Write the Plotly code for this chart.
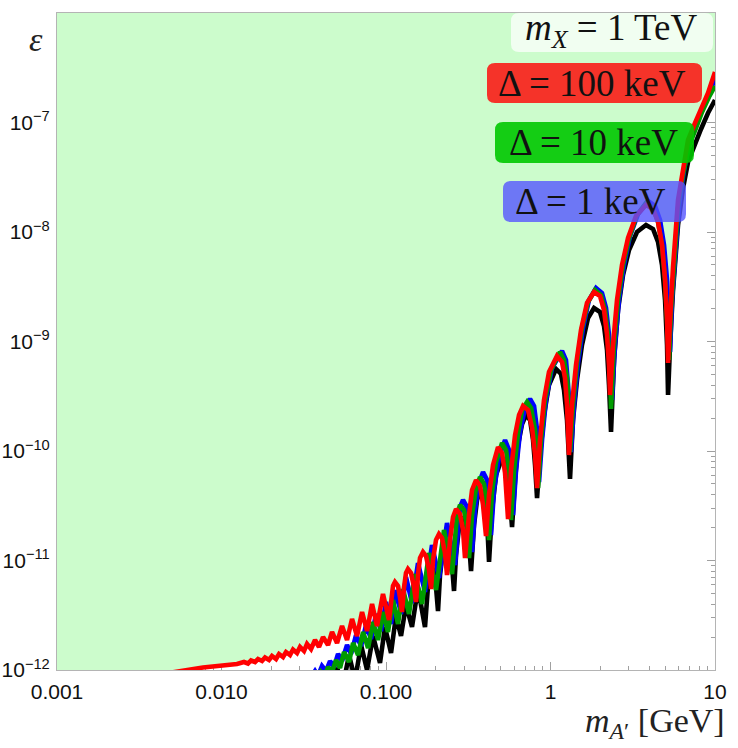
import plotly.graph_objects as go

# ---------------- data ----------------
red_m = [0.00368, 0.0056, 0.00772, 0.01242, 0.0137, 0.01449, 0.01511, 0.01599, 0.01667, 0.01763,
         0.01839, 0.01945, 0.02028, 0.02145, 0.02237, 0.02366, 0.02467, 0.02609, 0.02721, 0.02878,
         0.03002, 0.03174, 0.03311, 0.03502, 0.03703, 0.03916, 0.04142, 0.04442, 0.04699, 0.05039,
         0.05405, 0.05797, 0.06217, 0.06668, 0.07152, 0.0767, 0.08227, 0.0882, 0.09588, 0.1043,
         0.1073, 0.1103, 0.1134, 0.1183, 0.1216, 0.1251, 0.1286, 0.1323, 0.136, 0.1419,
         0.148, 0.1522, 0.1565, 0.161, 0.1679, 0.1751, 0.1826, 0.1878, 0.1931, 0.2014,
         0.21, 0.219, 0.2284, 0.2349, 0.245, 0.2555, 0.2665, 0.2818, 0.2939, 0.3023,
         0.3197, 0.3334, 0.3526, 0.3729, 0.3889, 0.4056, 0.423, 0.4474, 0.4798, 0.5075,
         0.5293, 0.552, 0.5756, 0.6088, 0.6439, 0.681, 0.7304, 0.7725, 0.8056, 0.8285,
         0.8637, 0.9129, 0.9791, 1.095, 1.175, 1.225, 1.26, 1.295, 1.351, 1.429,
         1.533, 1.667, 1.839, 2.0, 2.115, 2.206, 2.268, 2.3, 2.399, 2.537,
         2.721, 2.96, 3.311, 3.808, 4.2, 4.505, 4.765, 4.97, 5.11, 5.183,
         5.33, 5.558, 5.961, 6.394, 6.858, 7.564, 8.227, 9.071, 10.0]
red_eps = [8.82e-13, 9.79e-13, 1.054e-12, 1.134e-12, 1.183e-12, 1.146e-12, 1.221e-12, 1.183e-12, 1.26e-12, 1.208e-12,
           1.301e-12, 1.234e-12, 1.342e-12, 1.26e-12, 1.4e-12, 1.314e-12, 1.46e-12, 1.371e-12, 1.539e-12, 1.43e-12,
           1.622e-12, 1.491e-12, 1.727e-12, 1.555e-12, 1.879e-12, 1.622e-12, 2.001e-12, 1.692e-12, 2.224e-12, 1.764e-12,
           2.523e-12, 1.879e-12, 2.923e-12, 2.044e-12, 3.386e-12, 2.271e-12, 4.007e-12, 2.523e-12, 4.945e-12, 2.862e-12,
           4.642e-12, 5.851e-12, 6.364e-12, 5.851e-12, 4.642e-12, 3.386e-12, 5.61e-12, 7.69e-12, 8.365e-12, 7.69e-12,
           5.729e-12, 4.179e-12, 7.373e-12, 1.054e-11, 1.195e-11, 1.099e-11, 8.191e-12, 5.493e-12, 1.01e-11, 1.539e-11,
           1.745e-11, 1.605e-11, 1.17e-11, 7.373e-12, 1.539e-11, 2.497e-11, 2.954e-11, 2.659e-11, 1.899e-11, 1.054e-11,
           2.603e-11, 4.404e-11, 5.436e-11, 4.792e-11, 3.213e-11, 1.674e-11, 3.965e-11, 7.451e-11, 1.088e-10, 9.59e-11,
           6.298e-11, 2.393e-11, 6.708e-11, 1.4e-10, 2.132e-10, 2.576e-10, 2.368e-10, 1.622e-10, 9.195e-11, 4.594e-11,
           1.26e-10, 2.923e-10, 5.267e-10, 7.373e-10, 6.5e-10, 4.642e-10, 2.631e-10, 9.195e-11, 2.631e-10, 6.102e-10,
           1.274e-9, 2.247e-9, 2.832e-9, 2.603e-9, 1.939e-9, 1.146e-9, 6.102e-10, 3.247e-10, 9.292e-10, 2.393e-9,
           4.995e-9, 8.816e-9, 1.4e-8, 1.764e-8, 1.622e-8, 1.234e-8, 7.61e-9, 3.645e-9, 1.571e-9, 6.364e-10,
           1.571e-9, 4.792e-9, 1.96e-8, 3.923e-8, 6.923e-8, 9.897e-8, 1.301e-7, 1.859e-7, 2.892e-7]

black_m = [0.04442, 0.05039, 0.05481, 0.05961, 0.06484, 0.07053, 0.0767, 0.08343, 0.09194, 0.0986,
           0.1073, 0.115, 0.1234, 0.1323, 0.1439, 0.1565, 0.1726, 0.1775, 0.1826, 0.1878,
           0.1958, 0.2014, 0.2071, 0.213, 0.2221, 0.2317, 0.2416, 0.252, 0.2591, 0.2665,
           0.2779, 0.2898, 0.3065, 0.3197, 0.3288, 0.3429, 0.3576, 0.3729, 0.3944, 0.4113,
           0.423, 0.4412, 0.4666, 0.5075, 0.5367, 0.5597, 0.5838, 0.6088, 0.6349, 0.6715,
           0.7102, 0.7511, 0.7833, 0.8056, 0.8285, 0.8637, 0.9129, 0.9791, 1.08, 1.158,
           1.208, 1.26, 1.314, 1.37, 1.449, 1.554, 1.691, 1.839, 2.0, 2.115,
           2.206, 2.268, 2.333, 2.433, 2.573, 2.76, 3.002, 3.357, 3.808, 4.2,
           4.505, 4.765, 4.97, 5.11, 5.183, 5.33, 5.558, 5.961, 6.394, 6.858,
           7.564, 8.227, 9.071, 10.0]
black_eps = [6.57e-13, 1.043e-12, 7.29e-13, 1.371e-12, 8.1e-13, 1.692e-12, 1.0e-12, 2.044e-12, 1.158e-12, 2.47e-12,
             1.43e-12, 3.113e-12, 2.044e-12, 3.923e-12, 2.47e-12, 5.61e-12, 2.47e-12, 5.379e-12, 7.853e-12, 8.909e-12,
             8.02e-12, 5.729e-12, 3.458e-12, 7.373e-12, 1.247e-11, 1.475e-11, 1.301e-11, 9.099e-12, 5.267e-12, 1.122e-11,
             2.022e-11, 2.497e-11, 2.2e-11, 1.475e-11, 8.02e-12, 2.11e-11, 3.57e-11, 4.404e-11, 3.802e-11, 2.343e-11,
             9.691e-12, 2.892e-11, 6.038e-11, 8.633e-11, 7.451e-11, 4.69e-11, 2.022e-11, 5.436e-11, 1.134e-10, 1.764e-10,
             2.132e-10, 1.919e-10, 1.26e-10, 7.451e-11, 3.722e-11, 9.195e-11, 2.132e-10, 4.007e-10, 5.61e-10, 5.05e-10,
             3.607e-10, 1.919e-10, 5.55e-11, 1.919e-10, 4.451e-10, 9.292e-10, 1.639e-9, 2.022e-9, 1.859e-9, 1.385e-9,
             8.365e-10, 4.007e-10, 1.491e-10, 6.779e-10, 1.939e-9, 4.05e-9, 6.85e-9, 1.0e-8, 1.158e-8, 1.065e-8,
             8.105e-9, 4.995e-9, 2.393e-9, 9.292e-10, 3.247e-10, 9.292e-10, 2.954e-9, 1.158e-8, 2.523e-8, 4.358e-8,
             6.5e-8, 8.724e-8, 1.221e-7, 1.605e-7]

blue_m = [0.03357, 0.03703, 0.03862, 0.04084, 0.0432, 0.04569, 0.04832, 0.0511, 0.05405, 0.05797,
          0.06131, 0.06576, 0.07053, 0.07564, 0.08113, 0.08698, 0.09323, 0.1, 0.1073, 0.115,
          0.1234, 0.1323, 0.1439, 0.1565, 0.1726, 0.1904, 0.21, 0.2349, 0.2628, 0.274,
          0.2818, 0.2939, 0.3108, 0.3242, 0.3334, 0.3477, 0.3677, 0.3889, 0.4113, 0.423,
          0.435, 0.4537, 0.4866, 0.5293, 0.5597, 0.5756, 0.592, 0.6174, 0.653, 0.7003,
          0.7511, 0.7944, 0.8285, 0.8402, 0.8517, 0.8883, 0.9389, 1.021, 1.175, 1.242,
          1.277, 1.314, 1.332, 1.39, 1.47, 1.576, 1.714, 1.891, 2.056, 2.175,
          2.268, 2.333, 2.366, 2.467, 2.609, 2.799, 3.044, 3.405, 3.916, 4.32,
          4.633, 4.9, 5.11, 5.256, 5.33, 5.481, 5.716, 6.046, 6.484, 6.955,
          7.67, 8.343, 9.194, 10.0]
blue_eps = [7.77e-13, 9.79e-13, 8.82e-13, 1.088e-12, 9.79e-13, 1.208e-12, 1.065e-12, 1.4e-12, 1.208e-12, 1.692e-12,
            1.4e-12, 2.088e-12, 1.656e-12, 2.576e-12, 1.919e-12, 3.247e-12, 2.271e-12, 4.179e-12, 2.631e-12, 5.379e-12,
            3.247e-12, 7.07e-12, 4.092e-12, 9.489e-12, 5.157e-12, 1.385e-11, 6.923e-12, 2.2e-11, 9.099e-12, 2.11e-11,
            3.08e-11, 3.57e-11, 3.08e-11, 2.11e-11, 1.195e-11, 2.892e-11, 5.103e-11, 6.432e-11, 5.436e-11, 3.57e-11,
            1.709e-11, 4.404e-11, 8.816e-11, 1.26e-10, 1.021e-10, 6.038e-11, 2.603e-11, 6.708e-11, 1.491e-10, 2.47e-10,
            2.985e-10, 2.576e-10, 1.555e-10, 9.195e-11, 5.212e-11, 1.26e-10, 2.923e-10, 5.729e-10, 8.191e-10, 6.779e-10,
            4.451e-10, 2.368e-10, 9.79e-11, 2.631e-10, 6.364e-10, 1.328e-9, 2.393e-9, 3.08e-9, 2.773e-9, 2.022e-9,
            1.146e-9, 6.102e-10, 2.923e-10, 9.292e-10, 2.393e-9, 4.995e-9, 9.195e-9, 1.46e-8, 1.919e-8, 1.727e-8,
            1.287e-8, 7.61e-9, 3.645e-9, 1.571e-9, 8.02e-10, 2.393e-9, 5.55e-9, 1.764e-8, 3.683e-8, 6.5e-8,
            9.292e-8, 1.301e-7, 1.783e-7, 2.55e-7]

green_m = [0.03755, 0.04028, 0.0426, 0.04442, 0.04699, 0.0497, 0.05256, 0.05558, 0.05961, 0.06305,
           0.06762, 0.07253, 0.07779, 0.08343, 0.08945, 0.09588, 0.1028, 0.1103, 0.1183, 0.1269,
           0.138, 0.1501, 0.1655, 0.1826, 0.2014, 0.2253, 0.252, 0.2628, 0.2702, 0.2818,
           0.2981, 0.3108, 0.3197, 0.3334, 0.3526, 0.3729, 0.3944, 0.4113, 0.423, 0.4412,
           0.4666, 0.5075, 0.5367, 0.5597, 0.5756, 0.6004, 0.6349, 0.6715, 0.7202, 0.7617,
           0.8056, 0.8285, 0.8402, 0.8759, 0.9258, 1.007, 1.142, 1.208, 1.26, 1.295,
           1.314, 1.37, 1.449, 1.554, 1.691, 1.865, 2.028, 2.145, 2.237, 2.3,
           2.333, 2.433, 2.573, 2.76, 3.002, 3.357, 3.808, 4.2, 4.505, 4.765,
           4.97, 5.11, 5.256, 5.405, 5.637, 5.961, 6.394, 6.955, 7.67, 8.343,
           9.194, 10.0]
green_eps = [7.29e-13, 9.59e-13, 8.82e-13, 1.065e-12, 9.59e-13, 1.234e-12, 1.043e-12, 1.46e-12, 1.183e-12, 1.764e-12,
             1.371e-12, 2.224e-12, 1.588e-12, 2.744e-12, 1.879e-12, 3.386e-12, 2.224e-12, 4.358e-12, 2.631e-12, 5.493e-12,
             3.247e-12, 7.53e-12, 4.007e-12, 1.17e-11, 5.379e-12, 1.899e-11, 7.53e-12, 1.709e-11, 2.603e-11, 3.213e-11,
             2.892e-11, 1.98e-11, 1.054e-11, 2.603e-11, 4.594e-11, 5.79e-11, 4.995e-11, 3.213e-11, 1.539e-11, 4.223e-11,
             7.936e-11, 1.183e-10, 1.021e-10, 6.432e-11, 2.343e-11, 6.708e-11, 1.46e-10, 2.368e-10, 2.802e-10, 2.47e-10,
             1.555e-10, 8.633e-11, 4.594e-11, 1.26e-10, 2.923e-10, 5.493e-10, 8.02e-10, 6.779e-10, 4.642e-10, 2.47e-10,
             9.79e-11, 2.631e-10, 6.364e-10, 1.328e-9, 2.295e-9, 2.954e-9, 2.659e-9, 1.939e-9, 1.122e-9, 5.729e-10,
             2.419e-10, 9.292e-10, 2.393e-9, 4.995e-9, 8.816e-9, 1.43e-8, 1.84e-8, 1.656e-8, 1.234e-8, 7.61e-9,
             3.645e-9, 1.571e-9, 6.779e-10, 1.939e-9, 5.322e-9, 1.656e-8, 3.386e-8, 6.102e-8, 8.909e-8, 1.247e-7,
             1.709e-7, 2.155e-7]

x_tickvals = [0.001, 0.01, 0.1, 1, 10]
x_ticktext = ["0.001", "0.010", "0.100", "1", "10"]
y_tickvals = [1e-12, 1e-11, 1e-10, 1e-9, 1e-8, 1e-7]
y_ticktext = ["10<sup>−12</sup>", "10<sup>−11</sup>", "10<sup>−10</sup>",
              "10<sup>−9</sup>", "10<sup>−8</sup>", "10<sup>−7</sup>"]

labels = ["<i>m</i><sub><i>X</i></sub> = 1 TeV", "Δ = 100 keV", "Δ = 10 keV", "Δ = 1 keV"]

X_LO, X_HI = 1e-3, 10.0
Y_LO, Y_HI = 1e-12, 1e-6

# ---------------- figure ----------------
fig = go.Figure()

# excluded (green) region above the red curve
fill_x = [X_LO * 0.5] + red_m + [X_HI * 2, X_HI * 2, X_LO * 0.5]
fill_y = [red_eps[0]] + red_eps + [red_eps[-1], Y_HI * 2, Y_HI * 2]
fig.add_trace(go.Scatter(x=fill_x, y=fill_y, mode="lines", fill="toself",
                         fillcolor="rgb(204,252,204)", line=dict(width=0),
                         hoverinfo="skip", showlegend=False))

for xs, ys, col in [(black_m, black_eps, "black"),
                    (blue_m, blue_eps, "rgb(0,0,255)"),
                    (green_m, green_eps, "rgb(0,155,0)"),
                    (red_m, red_eps, "rgb(255,0,0)")]:
    fig.add_trace(go.Scatter(x=xs, y=ys, mode="lines",
                             line=dict(color=col, width=4.6),
                             showlegend=False, hoverinfo="skip"))

minor_x = [k * 10.0 ** e for e in range(-3, 1) for k in range(2, 10)]
minor_y = [k * 10.0 ** e for e in range(-12, -6) for k in range(2, 10)]

axis_common = dict(type="log", showgrid=False, zeroline=False, showline=True,
                   automargin=False,
                   linecolor="#b4b4b4", linewidth=1, mirror="allticks",
                   ticks="inside", ticklen=8, tickwidth=1, tickcolor="#a0a0a0",
                   tickfont=dict(family="Liberation Sans, Arial, sans-serif", size=21, color="#111"),
                   layer="below traces")

fig.update_xaxes(**axis_common, range=[-3, 1], tickmode="array",
                 tickvals=x_tickvals, ticktext=x_ticktext, ticklabelstandoff=3,
                 minor=dict(tickmode="array", tickvals=minor_x, ticks="inside",
                            ticklen=4, tickcolor="#a0a0a0", showgrid=False))
fig.update_yaxes(**axis_common, range=[-12, -6], tickmode="array",
                 tickvals=y_tickvals, ticktext=y_ticktext, ticklabelstandoff=2,
                 minor=dict(tickmode="array", tickvals=minor_y, ticks="inside",
                            ticklen=4, tickcolor="#a0a0a0", showgrid=False))

W, H = 738, 748
ML, MR, MT, MB = 57, 23, 13, 78
PW, PH = W - ML - MR, H - MT - MB


def px(xp):
    return (xp - ML) / PW


def py(yp):
    return (MT + PH - yp) / PH


def rounded_box(x0p, y0p, x1p, y1p, r=8):
    x0, x1 = px(x0p), px(x1p)
    yb, yt = py(y1p), py(y0p)
    rx, ry = r / PW, r / PH
    return (f"M {x0+rx},{yb} L {x1-rx},{yb} Q {x1},{yb} {x1},{yb+ry} "
            f"L {x1},{yt-ry} Q {x1},{yt} {x1-rx},{yt} L {x0+rx},{yt} "
            f"Q {x0},{yt} {x0},{yt-ry} L {x0},{yb+ry} Q {x0},{yb} {x0+rx},{yb} Z")


boxes = [((511, 13, 713, 52), "rgba(255,255,255,0.72)", (611, 30), 37),
         ((487, 63, 702, 103), "rgba(255,0,0,0.8)", (592, 83), 37),
         ((495, 122, 694, 163), "rgba(0,200,0,0.9)", (593, 142), 37),
         ((503, 181, 686, 222), "rgba(85,85,255,0.8)", (590, 201), 37)]
shapes = []
annotations = []
serif = "Liberation Serif, Times New Roman, serif"
for (bx, color, (cx, cy), fs), text in zip(boxes, labels):
    shapes.append(dict(type="path", xref="paper", yref="paper",
                       path=rounded_box(*bx), fillcolor=color, line=dict(width=0),
                       layer="above"))
    annotations.append(dict(x=px(cx), y=py(cy), xref="paper", yref="paper",
                            text=text, showarrow=False, xanchor="center", yanchor="middle",
                            font=dict(family=serif, size=fs, color="#111")))

annotations.append(dict(x=px(36), y=py(39), xref="paper", yref="paper", text="<i>ε</i>",
                        showarrow=False, xanchor="center", yanchor="middle",
                        font=dict(family=serif, size=34, color="#222")))
annotations.append(dict(x=px(727), y=py(723), xref="paper", yref="paper",
                        text="<i>m</i><sub><i>A</i>′</sub> [GeV]",
                        showarrow=False, xanchor="right", yanchor="middle",
                        font=dict(family=serif, size=34, color="#222")))

fig.update_layout(width=W, height=H, autosize=False,
                  margin=dict(l=ML, r=MR, t=MT, b=MB),
                  paper_bgcolor="white", plot_bgcolor="white",
                  shapes=shapes, annotations=annotations, showlegend=False)

fig.write_html("out.html")
